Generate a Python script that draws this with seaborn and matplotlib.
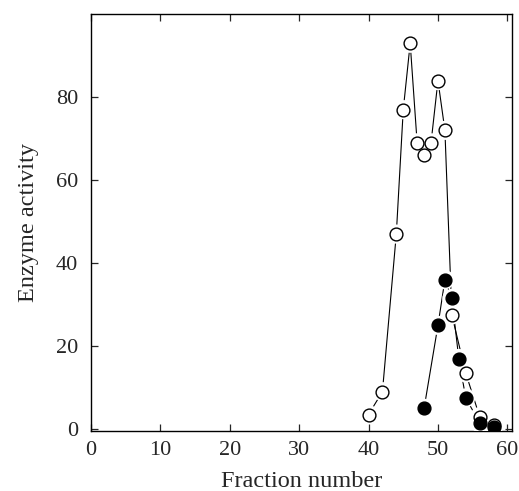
import matplotlib
matplotlib.use("Agg")
import matplotlib.pyplot as plt
import seaborn as sns
import pandas as pd

# Data
fraction_open = [40, 42, 44, 45, 46, 47, 48, 49, 50, 51, 52, 54, 56, 58]
activity_open = [3.5, 9, 47, 77, 93, 69, 66, 69, 84, 72, 27.5, 13.5, 3, 1]

fraction_filled = [48, 50, 51, 52, 53, 54, 56, 58]
activity_filled = [5, 25, 36, 31.5, 17, 7.5, 1.5, 0.5]

x_ticks = [0, 10, 20, 30, 40, 50, 60]
y_ticks = [0, 20, 40, 60, 80]

sns.set_style("ticks")
plt.rcParams['font.family'] = ['Liberation Serif', 'DejaVu Serif']

open_df = pd.DataFrame({'fraction': fraction_open, 'activity': activity_open})
filled_df = pd.DataFrame({'fraction': fraction_filled, 'activity': activity_filled})

fig = plt.figure(figsize=(5.19, 4.91), dpi=100)
ax = fig.add_axes([0.175, 0.122, 0.812, 0.849])

# connecting lines
sns.lineplot(data=open_df, x='fraction', y='activity', ax=ax,
             color='black', linewidth=0.8)
sns.lineplot(data=filled_df, x='fraction', y='activity', ax=ax,
             color='black', linewidth=0.8)

# white halo so the lines stop short of the circles
for d in (open_df, filled_df):
    sns.scatterplot(data=d, x='fraction', y='activity', ax=ax,
                    s=190, color='white', edgecolor='none', zorder=3)

sns.scatterplot(data=open_df, x='fraction', y='activity', ax=ax,
                s=85, facecolor='white', edgecolor='black',
                linewidth=1.0, zorder=4)
sns.scatterplot(data=filled_df, x='fraction', y='activity', ax=ax,
                s=85, color='black', edgecolor='black',
                linewidth=1.0, zorder=5)

ax.set_xlim(0, 60.7)
ax.set_ylim(-0.5, 100)
ax.set_xticks(x_ticks)
ax.set_yticks(y_ticks)
ax.tick_params(direction='in', top=True, right=True, labeltop=False,
               labelright=False, length=5, width=0.9, labelsize=16)
ax.tick_params(axis='x', pad=7)
ax.tick_params(axis='y', pad=9)
for s in ax.spines.values():
    s.set_linewidth(1.0)
    s.set_color('black')

ax.set_xlabel("Fraction number", fontsize=17.5, labelpad=8)
ax.set_ylabel("Enzyme activity", fontsize=17.5, labelpad=12)

fig.savefig("out.png", dpi=100)
